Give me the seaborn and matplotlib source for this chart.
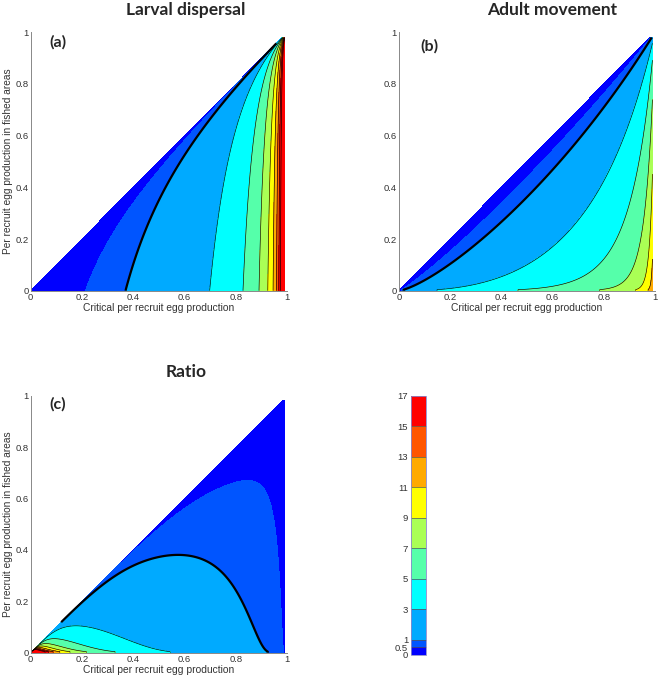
import numpy as np
import matplotlib
matplotlib.use("Agg")
import matplotlib.pyplot as plt
from matplotlib.colors import ListedColormap, BoundaryNorm
from matplotlib.cm import ScalarMappable
import seaborn as sns

# contour levels of the shared colour bar and the colour of each band
levels = [0, 0.5, 1, 3, 5, 7, 9, 11, 13, 15, 17]
band_colors = ["#0000ff", "#0055ff", "#00aaff", "#00ffff", "#55ffaa",
               "#aaff55", "#ffff00", "#ffaa00", "#ff5500", "#ff0000"]
thin_levels = [3, 5, 7, 9, 11, 13, 15, 17]
bold_levels = [1]

ticks = [0, 0.2, 0.4, 0.6, 0.8, 1]
tick_labels = ["0", "0.2", "0.4", "0.6", "0.8", "1"]

panel_titles = ["Larval dispersal", "Adult movement", "Ratio"]
panel_tags = ["(a)", "(b)", "(c)"]
x_label = "Critical per recruit egg production"
y_label = "Per recruit egg production in fished areas"

# model constants (reserve width in units of dispersal / movement distance)
adult_scale = [2.95, 0.9]   # movement scale at x=0 and its drop towards x=1
adult_edge = 0.35           # extra width close to the diagonal, from panel (c)
edge_decay = 0.25
x_max = 0.99                # right edge of the computed region
y_max = 0.98                # top of the computed region
y_floor = 0.004             # lowest fished-area egg production evaluated


def larval_width(x, y):
    # reserve width for a Laplacian larval kernel (eigenvalue = critical value)
    omega = np.sqrt(1.0 / x - 1.0)
    kappa = np.sqrt(1.0 - y / x)
    return 2.0 / omega * np.arctan(kappa / omega)


def adult_width(x, y):
    q = np.log(np.log(y) / np.log(x))
    g = adult_scale[0] - adult_scale[1] * x
    return g * q + adult_edge * np.sqrt(q) * np.exp(-q / edge_decay)


s = np.linspace(0, x_max, 600)
t = np.linspace(0, 1, 500)
S, T = np.meshgrid(s, t)
X = S
Y = T * np.minimum(S, y_max)
xe = np.clip(X, 1e-3, None)
ye = np.minimum(np.clip(Y, y_floor, None), xe * 0.9995)

larval = larval_width(xe, ye)
adult = adult_width(xe, ye)
ratio = adult / larval
fields = [larval, adult, ratio]

sns.set_style("white")
plt.rcParams["font.family"] = ["Liberation Sans", "DejaVu Sans"]

cmap = ListedColormap(band_colors)
cmap.set_over("#ff0000")
norm = BoundaryNorm(levels, cmap.N)

W, H = 661, 681
fig = plt.figure(figsize=(W / 100, H / 100), dpi=100)


def px_axes(x0, x1, ytop, ybot):
    return fig.add_axes([x0 / W, 1 - ybot / H, (x1 - x0) / W, (ybot - ytop) / H])


axes = [px_axes(30.7, 287.3, 32.3, 290.7),
        px_axes(399, 655, 32.3, 290.7),
        px_axes(30.7, 287.3, 395.7, 652.7)]

for i, ax in enumerate(axes):
    Z = fields[i]
    ax.contourf(X, Y, Z, levels=levels, cmap=cmap, norm=norm, extend="max")
    ax.contour(X, Y, Z, levels=thin_levels, colors="k", linewidths=0.45)
    ax.contour(X, Y, Z, levels=bold_levels, colors="k", linewidths=1.6)
    ax.set_xlim(0, 1)
    ax.set_ylim(0, 1)
    ax.set_xticks(ticks)
    ax.set_xticklabels(tick_labels)
    ax.set_yticks(ticks)
    ax.set_yticklabels(tick_labels)
    ax.tick_params(direction="in", length=3, width=0.6, color="#777777",
                   labelsize=6.8, labelcolor="#333333", pad=1.5)
    for side in ["top", "right"]:
        ax.spines[side].set_visible(False)
    for side in ["left", "bottom"]:
        ax.spines[side].set_color("#888888")
        ax.spines[side].set_linewidth(0.7)
    ax.set_xlabel(x_label, fontsize=7.4, color="#333333", labelpad=1)
    if i != 1:
        ax.set_ylabel(y_label, fontsize=7.3, color="#333333", labelpad=1.5)

# shared colour bar
cax = px_axes(411, 425.7, 395.7, 655)
sm = ScalarMappable(norm=norm, cmap=cmap)
cb = fig.colorbar(sm, cax=cax, spacing="proportional", ticks=levels,
                  drawedges=True)
cb.set_ticklabels([("%g" % v) for v in levels])
cb.outline.set_edgecolor("#8888cc")
cb.outline.set_linewidth(0.6)
cb.dividers.set_color("#555555")
cb.dividers.set_linewidth(0.5)
cax.yaxis.set_ticks_position("left")
cax.tick_params(length=0, labelsize=6.8, labelcolor="#333333", pad=2)

# titles and panel tags
title_pos = [(186, 10), (552, 10), (186, 372)]
tag_pos = [(58, 42), (429, 46), (58, 404)]
for i in range(3):
    fig.text(title_pos[i][0] / W, 1 - title_pos[i][1] / H, panel_titles[i],
             ha="center", va="center", fontsize=12.5, fontweight="bold",
             family=["Lato", "DejaVu Sans"])
    fig.text(tag_pos[i][0] / W, 1 - tag_pos[i][1] / H, panel_tags[i],
             ha="center", va="center", fontsize=11.5, fontweight="bold",
             family=["Lato", "DejaVu Sans"])

fig.savefig("out.png", dpi=100)
